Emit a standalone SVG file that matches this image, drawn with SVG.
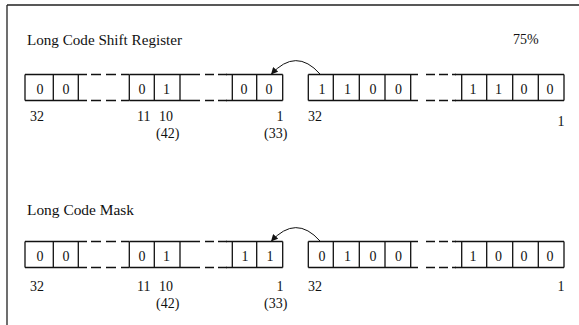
<svg xmlns="http://www.w3.org/2000/svg" width="579" height="325" viewBox="0 0 579 325">
<style>
text{font-family:"Liberation Serif","Times New Roman",serif;font-size:14px;fill:#111}
.c{text-anchor:middle}
.s{stroke:#111;stroke-width:1.3;fill:none}
.d{stroke:#111;stroke-width:1.3;fill:none;stroke-dasharray:10 5}
.d2{stroke:#111;stroke-width:1.3;fill:none;stroke-dasharray:9 4}
.fr{stroke:#222;stroke-width:1.3;fill:none}
.ar{stroke:#111;stroke-width:1;fill:none}
</style>
<defs>
<marker id="ah" viewBox="0 0 10 10" refX="10" refY="5" markerWidth="8" markerHeight="7" markerUnits="userSpaceOnUse" orient="auto">
<path d="M0,0 L10,5 L0,10 z" fill="#111"/>
</marker>
<g id="regL">
<path class="s" d="M25,0 H87 M25,26 H87 M25,0 V26 M53.3,0 V26 M78.3,0 V26"/>
<path class="d" d="M91,0 H129 M91,26 H129"/>
<path class="s" d="M129.3,0 H200 M129.3,26 H200 M129.3,0 V26 M154.3,0 V26 M180,0 V26"/>
<path class="d2" d="M205,0 H228 M205,26 H228"/>
<path class="s" d="M226,0 H282.7 M226,26 H282.7 M232.3,0 V26 M256.7,0 V26 M282.7,0 V26"/>
</g>
<g id="regR">
<path class="s" d="M308.3,0 H418 M308.3,26 H418 M308.3,0 V26 M333.3,0 V26 M359.3,0 V26 M385,0 V26 M410.7,0 V26"/>
<path class="d2" d="M426,0 H456 M426,26 H456"/>
<path class="s" d="M455,0 H564 M455,26 H564 M461.7,0 V26 M486.7,0 V26 M512.7,0 V26 M538.3,0 V26 M564,0 V26"/>
</g>
</defs>
<g id="frame">
<path class="fr" d="M7,5 H579 M7,5 V325"/>
</g>
<g id="shift-title">
<text x="27" y="45" textLength="155" lengthAdjust="spacingAndGlyphs">Long Code Shift Register</text>
<text x="513" y="43.5">75%</text>
</g>
<g id="shift-left-register">
<use href="#regL" y="74.5"/>
<text class="c" x="40" y="93.5">0</text>
<text class="c" x="66" y="93.5">0</text>
<text class="c" x="142" y="93.5">0</text>
<text class="c" x="166.5" y="93.5">1</text>
<text class="c" x="244" y="93.5">0</text>
<text class="c" x="269" y="93.5">0</text>
<text x="30" y="120.5">32</text>
<text x="137" y="120.5">11</text>
<text x="159" y="120.5">10</text>
<text class="c" x="280" y="120.5">1</text>
<text x="156" y="137.5">(42)</text>
<text x="264" y="137.5">(33)</text>
</g>
<g id="shift-right-register">
<use href="#regR" y="74.5"/>
<text class="c" x="322" y="93.5">1</text>
<text class="c" x="347.5" y="93.5">1</text>
<text class="c" x="373" y="93.5">0</text>
<text class="c" x="398.5" y="93.5">0</text>
<text class="c" x="473" y="93.5">1</text>
<text class="c" x="498.5" y="93.5">1</text>
<text class="c" x="524" y="93.5">0</text>
<text class="c" x="550" y="93.5">0</text>
<text x="308" y="120.5">32</text>
<text class="c" x="561" y="126">1</text>
</g>
<g id="mask-title">
<text x="27" y="215" textLength="107" lengthAdjust="spacingAndGlyphs">Long Code Mask</text>
</g>
<g id="mask-left-register">
<use href="#regL" y="241.5"/>
<text class="c" x="40" y="261">0</text>
<text class="c" x="66" y="261">0</text>
<text class="c" x="142" y="261">0</text>
<text class="c" x="166.5" y="261">1</text>
<text class="c" x="245" y="261">1</text>
<text class="c" x="270" y="261">1</text>
<text x="30" y="291">32</text>
<text x="137" y="291">11</text>
<text x="159" y="291">10</text>
<text class="c" x="280" y="291">1</text>
<text x="156" y="307.5">(42)</text>
<text x="264" y="307.5">(33)</text>
</g>
<g id="mask-right-register">
<use href="#regR" y="241.5"/>
<text class="c" x="322" y="261">0</text>
<text class="c" x="347.5" y="261">1</text>
<text class="c" x="373" y="261">0</text>
<text class="c" x="398.5" y="261">0</text>
<text class="c" x="473" y="261">1</text>
<text class="c" x="498.5" y="261">0</text>
<text class="c" x="524" y="261">0</text>
<text class="c" x="550" y="261">0</text>
<text x="308" y="291">32</text>
<text class="c" x="561" y="291">1</text>
</g>
<g id="connectors">
<path class="ar" d="M320,74 Q296,47 271,74.5" marker-end="url(#ah)"/>
<path class="ar" d="M320,241 Q296,214 271,241.5" marker-end="url(#ah)"/>
</g>
</svg>
